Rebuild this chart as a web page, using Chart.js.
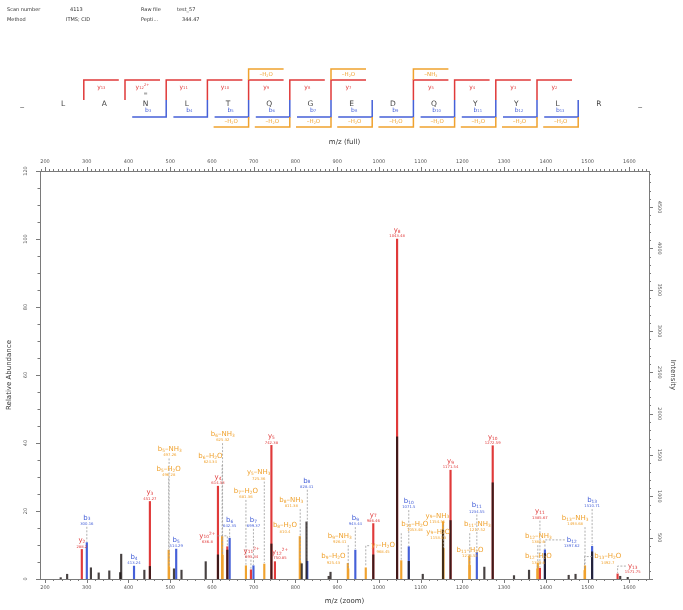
<!DOCTYPE html>
<html>
<head>
<meta charset="utf-8">
<title>Spectrum 4113</title>
<script src="https://cdn.jsdelivr.net/npm/chart.js@4.4.1/dist/chart.umd.min.js"></script>
<style>
  html, body { margin: 0; padding: 0; background: #fff; }
  #wrap { position: relative; width: 683px; height: 610px; }
  #spectrum { position: absolute; left: 0; top: 0; }
  .hdr { position: absolute; font: 5px "DejaVu Sans", sans-serif; color: #333; white-space: nowrap; line-height: 6px; }
</style>
</head>
<body>
<div id="wrap">
  <canvas id="spectrum" width="683" height="610"></canvas>
  <div class="hdr" style="left:7px;top:6px">Scan number</div>
  <div class="hdr" style="left:70px;top:6px">4113</div>
  <div class="hdr" style="left:141px;top:6px">Raw file</div>
  <div class="hdr" style="left:177px;top:6px">test_57</div>
  <div class="hdr" style="left:7px;top:16px">Method</div>
  <div class="hdr" style="left:66px;top:16px">ITMS; CID</div>
  <div class="hdr" style="left:141px;top:16px">Pepti...</div>
  <div class="hdr" style="left:182px;top:16px">344.47</div>
</div>
<script>
// ======================================
// DATA
// ======================================

// Peptide sequence and observed fragment brackets
const peptide = ['L', 'A', 'N', 'L', 'T', 'Q', 'G', 'E', 'D', 'Q', 'Y', 'Y', 'L', 'R'];
const yBrackets = [13, 12, 11, 10, 9, 8, 7, 5, 4, 3, 2];
const yBracketCharge = { 12: 2 };
const yBracketLoss = { 9: 'H2O', 7: 'H2O', 5: 'NH3' };
const bBrackets = [3, 4, 5, 6, 7, 8, 9, 10, 11, 12, 13];
const bBracketLoss = [5, 6, 7, 8, 9, 10, 11, 12, 13];

// y ions (red)
const yIonNames = ['y2', 'y3', 'y4', 'y10^2+', 'y11^2+', 'y5', 'y12^2+', 'y7', 'y8', 'y9', 'y10', 'y11', 'y13'];
const yIonMz = [288.2, 451.27, 614.33, 636.8, 693.34, 742.38, 750.85, 986.46, 1043.48, 1171.54, 1272.59, 1385.67, 1571.75];
const yIonRel = [8.7, 22.8, 27.3, 9.5, 2.7, 39.3, 5.1, 16.3, 100, 32, 39.2, 3.2, 1.5];

// b ions (blue)
const bIonNames = ['b3', 'b4', 'b5', 'b6', 'b7', 'b8', 'b9', 'b10', 'b11', 'b12', 'b13'];
const bIonMz = [300.16, 413.24, 514.29, 642.35, 699.37, 828.41, 943.44, 1071.5, 1234.55, 1397.62, 1510.71];
const bIonRel = [10.7, 3.8, 8.8, 12, 3.9, 5.2, 8.5, 9.5, 7.8, 8.6, 9.6];

// neutral losses (orange)
const lossNames = ['b5-H2O', 'b5-NH3', 'b6-H2O', 'b6-NH3', 'b7-H2O', 'y5-NH3', 'b8-H2O', 'b8-NH3', 'b9-H2O', 'b9-NH3',
                   'y7-H2O', 'b10-H2O', 'y9-H2O', 'y9-NH3', 'b11-H2O', 'b11-NH3', 'b12-H2O', 'b12-NH3', 'b13-H2O', 'b13-NH3'];
const lossMz = [496.28, 497.26, 624.34, 625.32, 681.36, 725.36, 810.4, 811.38, 925.43, 926.41,
                968.45, 1053.48, 1153.53, 1154.51, 1216.53, 1217.52, 1379.6, 1380.6, 1492.7, 1493.68];
const lossRel = [8.5, 3.5, 12.5, 7, 3.9, 4.4, 12.5, 5, 4.6, 3,
                 3.3, 5.4, 16.9, 9, 6.6, 4, 3, 4.7, 2.5, 3.9];

// unassigned peaks (dark)
const otherMz = [237.6, 253, 310, 328.6, 354, 380, 382.5, 438, 451.27, 509, 527, 585, 614.33, 636.8, 742.38,
                 815, 826.5, 879.6, 884, 986.46, 1043.48, 1071.5, 1105, 1153.53, 1171.54, 1252.5, 1272.59,
                 1323.6, 1359.6, 1397.62, 1454.6, 1471, 1510.71, 1578, 1596];
const otherRel = [0.4, 1.4, 3.3, 1.8, 2.4, 1.9, 7.3, 2.6, 3.7, 3, 2.6, 5.1, 7.1, 8.5, 10.3,
                  4.5, 16.8, 0.8, 2, 7.1, 41.8, 5.2, 1.4, 14.4, 17.2, 3.5, 28.3,
                  1, 2.6, 7.5, 1.1, 1.4, 8, 0.8, 0.5];

// axes
const mzMin = 188;
const mzMax = 1647;
const relMax = 120;
const intensityAt100 = 4114;

// ======================================
// LAYOUT / STYLE
// ======================================
const FONT = '"DejaVu Sans", sans-serif';
const RED = '#e03a3a';
const BLUE = '#4560d8';
const ORANGE = '#f0a22e';
const DARK = 'rgba(25, 18, 18, 0.8)';
const AXIS = '#7a7a7a';
const TICK_TEXT = '#555';

// label placement for raised / shifted labels: [m/z, rel. abundance] of the name centre
const labelPlacement = {
    'b3': [300.16, 18.0], 'b5-H2O': [496.28, 32.3], 'b5-NH3': [499, 38.1], 'b6-NH3': [626, 42.6],
    'b6-H2O': [596, 36.2], 'y10^2+': [589, 12.7], 'b6': [642.35, 17.4], 'y11^2+': [695, 8.3],
    'b7-H2O': [681.36, 25.9], 'b7': [699.37, 17.4], 'y5-NH3': [712, 31.3], 'y12^2+': [763, 7.9],
    'b8-NH3': [790, 23.2], 'b8-H2O': [775, 15.7], 'b8': [827, 28.9], 'b9-NH3': [906, 12.6],
    'b9-H2O': [891, 6.6], 'b9': [943.44, 17.9], 'y7-H2O': [1010, 9.8], 'b10': [1071.5, 22.9],
    'b10-H2O': [1086, 16.1], 'y9-NH3': [1140, 18.6], 'y9-H2O': [1142, 13.9], 'b11': [1234.55, 21.6],
    'b11-NH3': [1236, 16.1], 'b11-H2O': [1218, 8.5], 'y11': [1385.67, 19.8], 'b12-NH3': [1382, 12.6],
    'b12': [1462, 11.5], 'b12-H2O': [1382, 6.6], 'b13-NH3': [1470, 17.9], 'b13': [1510.71, 23.2],
    'b13-H2O': [1548, 6.6], 'y13': [1608, 3.8]
};

// ======================================
// HELPERS
// ======================================
const toPoints = (mz, rel) => mz.map((m, i) => ({ x: m, y: rel[i] }));

function lossParts(loss) {
    return loss === 'H2O' ? [['–H', 0], ['2', 1], ['O', 0]] : [['–NH', 0], ['3', 1]];
}

// split "b5-H2O" / "y10^2+" into [text, mode] parts (0 normal, 1 sub, 2 sup)
function ionParts(name) {
    const m = name.match(/^([a-z])(\d+)(?:\^(\d\+))?(?:-(H2O|NH3))?$/);
    const parts = [[m[1], 0], [m[2], 1]];
    if (m[3]) parts.push([m[3], 2]);
    if (m[4]) parts.push(...lossParts(m[4]));
    return parts;
}

function richFont(size, mode) {
    return `${mode ? size * 0.62 : size}px ${FONT}`;
}

function richWidth(ctx, parts, size) {
    let w = 0;
    parts.forEach(([t, mode]) => { ctx.font = richFont(size, mode); w += ctx.measureText(t).width; });
    return w;
}

function drawRich(ctx, parts, cx, cy, size, color) {
    let x = cx - richWidth(ctx, parts, size) / 2;
    ctx.fillStyle = color;
    ctx.textAlign = 'left';
    ctx.textBaseline = 'middle';
    parts.forEach(([t, mode]) => {
        ctx.font = richFont(size, mode);
        const dy = mode === 1 ? size * 0.22 : mode === 2 ? -size * 0.3 : 0;
        ctx.fillText(t, x, cy + dy);
        x += ctx.measureText(t).width;
    });
}

// ======================================
// PLUGINS
// ======================================

// major / minor tick marks: [major step, major length, minor length]
const tickMarks = { x: [100, 4, 2], x2: [100, 4, 2], y: [20, 4, 2.5], y2: [500, 4, 2] };

const axisTicksPlugin = {
    id: 'axisTicks',
    afterDraw(chart) {
        const ctx = chart.ctx;
        ctx.save();
        ctx.strokeStyle = AXIS;
        ctx.lineWidth = 1;
        Object.entries(tickMarks).forEach(([id, [major, longLen, shortLen]]) => {
            const s = chart.scales[id];
            s.ticks.forEach(t => {
                const len = t.value % major === 0 ? longLen : shortLen;
                const p = Math.round(s.getPixelForValue(t.value)) + 0.5;
                ctx.beginPath();
                if (id === 'x') { ctx.moveTo(p, s.top); ctx.lineTo(p, s.top + len); }
                else if (id === 'x2') { ctx.moveTo(p, s.bottom); ctx.lineTo(p, s.bottom - len); }
                else if (id === 'y') { ctx.moveTo(s.right, p); ctx.lineTo(s.right - len, p); }
                else { ctx.moveTo(s.left, p); ctx.lineTo(s.left + len, p); }
                ctx.stroke();
            });
        });
        ctx.restore();
    }
};

const ionLabels = [
    ...lossNames.map((n, i) => ({ name: n, mz: lossMz[i], rel: lossRel[i], color: ORANGE })),
    ...bIonNames.map((n, i) => ({ name: n, mz: bIonMz[i], rel: bIonRel[i], color: BLUE })),
    ...yIonNames.map((n, i) => ({ name: n, mz: yIonMz[i], rel: yIonRel[i], color: RED }))
];

const ionLabelPlugin = {
    id: 'ionLabels',
    afterDatasetsDraw(chart) {
        const ctx = chart.ctx;
        const xs = chart.scales.x, ys = chart.scales.y;
        const nameSize = 7;
        ctx.save();
        const items = ionLabels.map(ion => {
            const place = labelPlacement[ion.name] || [ion.mz, ion.rel + 2.6];
            const parts = ionParts(ion.name);
            return {
                ion, parts,
                lx: xs.getPixelForValue(place[0]),
                ly: ys.getPixelForValue(place[1]),
                px: xs.getPixelForValue(ion.mz),
                top: ys.getPixelForValue(ion.rel),
                w: richWidth(ctx, parts, nameSize)
            };
        });
        // dashed leaders
        ctx.strokeStyle = '#9a9a9a';
        ctx.lineWidth = 0.8;
        ctx.setLineDash([2, 1.5]);
        items.forEach(it => {
            const half = it.w / 2;
            ctx.beginPath();
            if (it.px < it.lx - half - 5 || it.px > it.lx + half + 5) {
                const ex = it.px < it.lx ? it.lx - half - 2 : it.lx + half + 2;
                ctx.moveTo(ex, it.ly);
                ctx.lineTo(it.px, it.ly);
                ctx.lineTo(it.px, it.top - 1);
            } else if (it.top - (it.ly + 9) > 3) {
                ctx.moveTo(it.px, it.ly + 9);
                ctx.lineTo(it.px, it.top - 1);
            }
            ctx.stroke();
        });
        ctx.setLineDash([]);
        // names and m/z values
        items.forEach(it => {
            drawRich(ctx, it.parts, it.lx, it.ly, nameSize, it.ion.color);
            ctx.font = `3.8px ${FONT}`;
            ctx.textAlign = 'center';
            ctx.fillText(String(it.ion.mz), it.lx, it.ly + 6);
        });
        ctx.restore();
    }
};

// sequence coverage drawing above the spectrum
const seqLeft = 22, seqStep = 41.2;
const seqRows = { lossTop: 69, yLine: 80, mid: 100, letters: 104, bLine: 117, lossBottom: 127 };

const sequencePlugin = {
    id: 'sequence',
    afterDraw(chart) {
        const ctx = chart.ctx;
        const r = seqRows;
        const tokens = ['_', ...peptide, '_'];
        const colX = i => seqLeft + i * seqStep;
        ctx.save();
        ctx.lineWidth = 1.5;

        // letters
        ctx.fillStyle = '#444';
        ctx.font = `7.5px ${FONT}`;
        ctx.textAlign = 'center';
        ctx.textBaseline = 'middle';
        tokens.forEach((t, i) => ctx.fillText(t, colX(i), r.letters));
        ctx.font = `5px ${FONT}`;
        ctx.fillStyle = '#666';
        ctx.fillText('=', colX(3), r.letters - 10);

        // y brackets
        yBrackets.forEach(k => {
            const bx = colX(peptide.length - k + 0.5);
            ctx.strokeStyle = RED;
            ctx.beginPath();
            ctx.moveTo(bx, r.mid); ctx.lineTo(bx, r.yLine); ctx.lineTo(bx + 35, r.yLine);
            ctx.stroke();
            const parts = [['y', 0], [String(k), 1]];
            if (yBracketCharge[k]) parts.push([yBracketCharge[k] + '+', 2]);
            drawRich(ctx, parts, bx + 17.5, r.yLine + 7, 6, RED);
            if (yBracketLoss[k]) {
                ctx.strokeStyle = ORANGE;
                ctx.beginPath();
                ctx.moveTo(bx, r.yLine); ctx.lineTo(bx, r.lossTop); ctx.lineTo(bx + 35, r.lossTop);
                ctx.stroke();
                drawRich(ctx, lossParts(yBracketLoss[k]), bx + 17.5, r.lossTop + 6, 5.5, ORANGE);
            }
        });

        // b brackets
        bBrackets.forEach(k => {
            const bx = colX(k + 0.5);
            ctx.strokeStyle = BLUE;
            ctx.beginPath();
            ctx.moveTo(bx, r.mid); ctx.lineTo(bx, r.bLine); ctx.lineTo(bx - 34, r.bLine);
            ctx.stroke();
            drawRich(ctx, [['b', 0], [String(k), 1]], bx - 18, r.bLine - 7, 6, BLUE);
            if (bBracketLoss.includes(k)) {
                ctx.strokeStyle = ORANGE;
                ctx.beginPath();
                ctx.moveTo(bx, r.bLine); ctx.lineTo(bx, r.lossBottom); ctx.lineTo(bx - 35, r.lossBottom);
                ctx.stroke();
                drawRich(ctx, lossParts('H2O'), bx - 17.5, r.lossBottom - 5, 5.5, ORANGE);
            }
        });
        ctx.restore();
    }
};

// ======================================
// CHART
// ======================================
const tickFont = { size: 5, family: FONT };
const titleFont = { size: 7, family: FONT };
const hiddenGrid = { display: false, drawTicks: false, tickLength: 0 };
const axisBorder = { display: true, color: AXIS, width: 1 };

const mzAxis = (position, step, title, height, pad) => ({
    type: 'linear', position, min: mzMin, max: mzMax, offset: false,
    grid: hiddenGrid, border: axisBorder,
    afterBuildTicks: s => { s.ticks = s.ticks.filter(t => t.value % step === 0); },
    afterFit: s => { s.height = height; },
    ticks: {
        stepSize: step, autoSkip: false, includeBounds: false, maxRotation: 0, padding: pad,
        color: TICK_TEXT, font: tickFont,
        callback: v => (v % 100 === 0 ? String(v) : '')
    },
    title: { display: true, text: title, color: '#333', font: titleFont, padding: { top: 0, bottom: 2 } }
});

new Chart(document.getElementById('spectrum'), {
    type: 'bar',
    data: {
        datasets: [
            { label: 'unassigned', data: toPoints(otherMz, otherRel), backgroundColor: DARK, order: 0 },
            { label: 'b ions', data: toPoints(bIonMz, bIonRel), backgroundColor: BLUE, order: 1 },
            { label: 'y ions', data: toPoints(yIonMz, yIonRel), backgroundColor: RED, order: 2 },
            { label: 'neutral losses', data: toPoints(lossMz, lossRel), backgroundColor: ORANGE, order: 3 }
        ]
    },
    options: {
        responsive: false,
        animation: false,
        layout: { padding: { left: 3, right: 0, top: 138, bottom: 3 } },
        datasets: { bar: { barThickness: 1.5, grouped: false, borderWidth: 0 } },
        plugins: { legend: { display: false }, tooltip: { enabled: false } },
        scales: {
            x: mzAxis('bottom', 20, 'm/z (zoom)', 28, 6),
            x2: mzAxis('top', 10, 'm/z (full)', 33, 6),
            y: {
                position: 'left', min: 0, max: relMax,
                grid: hiddenGrid, border: axisBorder,
                afterFit: s => { s.width = 37; },
                ticks: {
                    stepSize: 5, autoSkip: false, minRotation: 90, maxRotation: 90, crossAlign: 'center',
                    padding: 10, color: TICK_TEXT, font: tickFont,
                    callback: v => (v % 20 === 0 ? String(v) : '')
                },
                title: { display: true, text: 'Relative Abundance', color: '#333', font: titleFont, padding: { top: 2, bottom: 0 } }
            },
            y2: {
                position: 'right', min: 0, max: relMax * intensityAt100 / 100,
                grid: hiddenGrid, border: axisBorder,
                afterFit: s => { s.width = 34; },
                ticks: {
                    stepSize: 100, autoSkip: false, includeBounds: false, minRotation: -90, maxRotation: -90,
                    crossAlign: 'center', padding: 4, color: TICK_TEXT, font: tickFont,
                    callback: v => (v % 500 === 0 && v > 0 ? String(v) : '')
                },
                title: { display: true, text: 'Intensity', color: '#333', font: titleFont, padding: { top: 6, bottom: 6 } }
            }
        }
    },
    plugins: [axisTicksPlugin, ionLabelPlugin, sequencePlugin]
});
</script>
</body>
</html>
